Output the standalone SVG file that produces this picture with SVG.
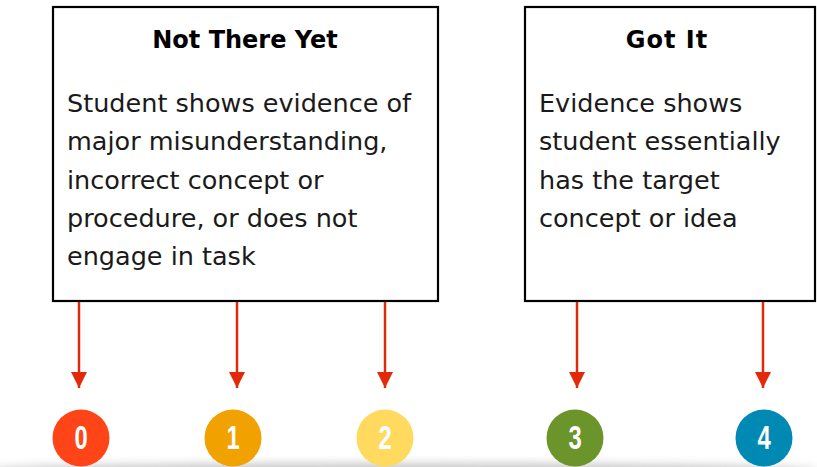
<svg xmlns="http://www.w3.org/2000/svg" width="817" height="467" viewBox="0 0 817 467">
<style>
.box{fill:#fff;stroke:#000;stroke-width:2.2}
.title{font-family:"DejaVu Sans",sans-serif;font-weight:bold;font-size:24px;fill:#000;text-anchor:middle}
.body{font-family:"DejaVu Sans",sans-serif;font-size:25.5px;fill:#1a1a1a}
.conn{stroke:#E22A0A;stroke-width:2.5;fill:none}
.num{font-family:"Liberation Sans",sans-serif;font-weight:bold;font-size:34px;fill:#fff;text-anchor:middle}
</style>
<defs>
<marker id="ah" viewBox="0 0 10 10" refX="10" refY="5" markerWidth="6.5" markerHeight="6.5" orient="auto" markerUnits="strokeWidth">
<path d="M0,0 L10,5 L0,10 Z" fill="#E22A0A"/>
</marker>
<filter id="blur" x="-50%" y="-50%" width="200%" height="200%"><feGaussianBlur stdDeviation="4"/></filter>
</defs>
<rect width="817" height="467" fill="#fff"/>
<g id="shadow">
<ellipse cx="400" cy="470" rx="420" ry="7" fill="#888" opacity="0.45" filter="url(#blur)"/>
</g>
<g id="box-not-there-yet">
<rect class="box" x="53" y="7" width="385" height="294"/>
<text class="title" x="245" y="48">Not There Yet</text>
<text class="body" x="67" y="112">Student shows evidence of</text>
<text class="body" x="67" y="150">major misunderstanding,</text>
<text class="body" x="67" y="189">incorrect concept or</text>
<text class="body" x="67" y="227">procedure, or does not</text>
<text class="body" x="67" y="265">engage in task</text>
</g>
<g id="box-got-it">
<rect class="box" x="525" y="7" width="290" height="294"/>
<text class="title" x="667" y="48" letter-spacing="1">Got It</text>
<text class="body" x="539" y="112">Evidence shows</text>
<text class="body" x="539" y="150">student essentially</text>
<text class="body" x="539" y="189">has the target</text>
<text class="body" x="539" y="227">concept or idea</text>
</g>
<g id="connectors">
<line class="conn" x1="79" y1="302" x2="79" y2="388" marker-end="url(#ah)"/>
<line class="conn" x1="237" y1="302" x2="237" y2="388" marker-end="url(#ah)"/>
<line class="conn" x1="385" y1="302" x2="385" y2="388" marker-end="url(#ah)"/>
<line class="conn" x1="577" y1="302" x2="577" y2="388" marker-end="url(#ah)"/>
<line class="conn" x1="763" y1="302" x2="763" y2="388" marker-end="url(#ah)"/>
</g>
<g id="score-0">
<circle cx="81" cy="438" r="28.5" fill="#FF4517"/>
<text class="num" transform="translate(81 449) scale(0.7 1)">0</text>
</g>
<g id="score-1">
<circle cx="233" cy="438" r="28.5" fill="#F1A100"/>
<text class="num" transform="translate(233 449) scale(0.7 1)">1</text>
</g>
<g id="score-2">
<circle cx="385" cy="438" r="28.5" fill="#FFDA5F"/>
<text class="num" transform="translate(385 449) scale(0.7 1)">2</text>
</g>
<g id="score-3">
<circle cx="575" cy="438" r="28.5" fill="#6B942B"/>
<text class="num" transform="translate(575 449) scale(0.7 1)">3</text>
</g>
<g id="score-4">
<circle cx="764" cy="438" r="28.5" fill="#0089B3"/>
<text class="num" transform="translate(764 449) scale(0.7 1)">4</text>
</g>
</svg>
